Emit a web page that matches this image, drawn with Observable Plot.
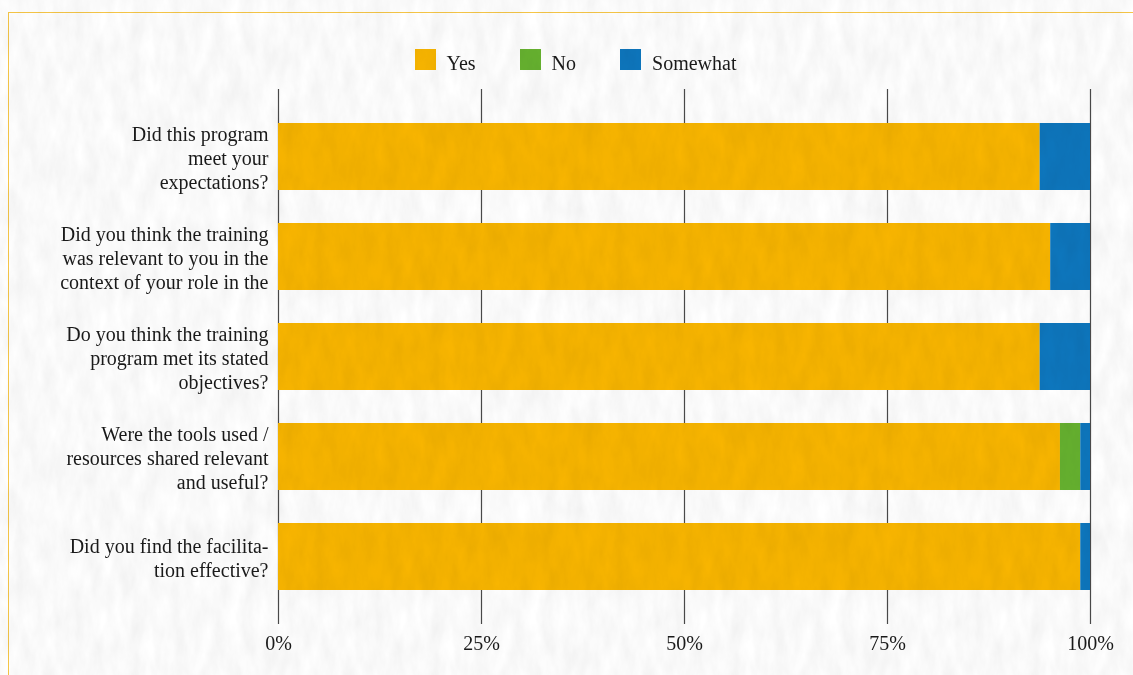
<!DOCTYPE html>
<html>
<head>
<meta charset="utf-8">
<script src="https://cdn.jsdelivr.net/npm/d3@7"></script>
<script src="https://cdn.jsdelivr.net/npm/@observablehq/plot@0.6"></script>
<style>
  html, body { margin: 0; padding: 0; width: 1133px; height: 675px; overflow: hidden; background: #ffffff; }
  body { position: relative; font-family: "Liberation Serif", "DejaVu Serif", serif; color: #1a1a1a; }
  #frame { position: absolute; left: 8px; top: 12px; width: 2000px; height: 2000px; border: 1.5px solid #f6c646; box-sizing: border-box; pointer-events: none; }
  #legend { position: relative; height: 80px; display: flex; justify-content: center; align-items: flex-start; padding-top: 48px; padding-left: 18px; box-sizing: border-box; font-size: 20px; }
  #legend .item { display: flex; align-items: center; margin-right: 44px; }
  #legend .item:last-child { margin-right: 0; }
  #legend .sw { width: 21px; height: 21px; margin-right: 11px; }
  #legend .lab { position: relative; top: 4px; }
  #chart svg { display: block; background: transparent; }
  #grain { position: absolute; left: 0; top: 0; width: 1133px; height: 675px; pointer-events: none; mix-blend-mode: multiply; z-index: 5;
    background-image: url("data:image/svg+xml;utf8,<svg xmlns='http://www.w3.org/2000/svg' width='300' height='300'><filter id='n' x='0' y='0' width='100%25' height='100%25'><feTurbulence type='fractalNoise' baseFrequency='0.07 0.025' numOctaves='4' seed='7' stitchTiles='stitch'/><feColorMatrix values='0.16 0 0 0 0.87  0.16 0 0 0 0.87  0.16 0 0 0 0.87  0 0 0 0 1'/></filter><rect width='300' height='300' filter='url(%23n)'/></svg>");
    background-size: 300px 300px; }
</style>
</head>
<body>
<div id="frame"></div>
<div id="legend"></div>
<div id="chart"></div>
<div id="grain"></div>
<script>
// ---- data ----
const questions = [
  "Did this program meet your expectations?",
  "Did you think the training was relevant to you in the context of your role in the",
  "Do you think the training program met its stated objectives?",
  "Were the tools used / resources shared relevant and useful?",
  "Did you find the facilitation effective?"
];
const questionLines = [
  "Did this program\nmeet your\nexpectations?",
  "Did you think the training\nwas relevant to you in the\ncontext of your role in the",
  "Do you think the training\nprogram met its stated\nobjectives?",
  "Were the tools used /\nresources shared relevant\nand useful?",
  "Did you find the facilita-\ntion effective?"
];
const responses = ["Yes", "No", "Somewhat"];
const yesPct      = [93.8, 95.1, 93.8, 96.3, 98.8];
const noPct       = [0.0,  0.0,  0.0,  2.5,  0.0];
const somewhatPct = [6.2,  4.9,  6.2,  1.2,  1.2];
const xTicks = [0, 25, 50, 75, 100];
const colors = ["#f8b500", "#66b22f", "#0d76bd"];

// ---- table ----
const series = [yesPct, noPct, somewhatPct];
const rows = questions.flatMap((q, i) =>
  responses.map((r, j) => ({question: q, response: r, value: series[j][i]}))
);
const labels = questions.map((q, i) => ({question: q, text: questionLines[i]}));

// ---- legend ----
const legend = document.getElementById("legend");
responses.forEach((r, j) => {
  const it = document.createElement("div");
  it.className = "item";
  it.innerHTML = `<div class="sw" style="background:${colors[j]}"></div><span class="lab">${r}</span>`;
  legend.appendChild(it);
});

// ---- chart ----
const chart = Plot.plot({
  width: 1133,
  height: 595,
  marginLeft: 278,
  marginRight: 43,
  marginTop: 9,
  marginBottom: 51,
  style: {fontFamily: "'Liberation Serif', serif", fontSize: "20px", color: "#1a1a1a", background: "transparent"},
  x: {domain: [0, 100]},
  y: {domain: questions, padding: 0.33},
  color: {domain: responses, range: colors},
  marks: [
    Plot.ruleX(xTicks, {stroke: "#4a4a4a", strokeWidth: 1.2}),
    Plot.barX(rows, Plot.stackX({x: "value", y: "question", fill: "response", order: responses})),
    Plot.axisX({ticks: xTicks, tickFormat: d => d + "%", tickSize: 0, tickPadding: 11, fontSize: 20, label: null}),
    Plot.axisY({ticks: [], label: null, tickSize: 0}),
    Plot.text(labels, {x: 0, y: "question", text: "text", textAnchor: "end", dx: -10, fontSize: 20, lineHeight: 24 / 20, fill: "#1a1a1a"})
  ]
});
document.getElementById("chart").appendChild(chart);
</script>
</body>
</html>
